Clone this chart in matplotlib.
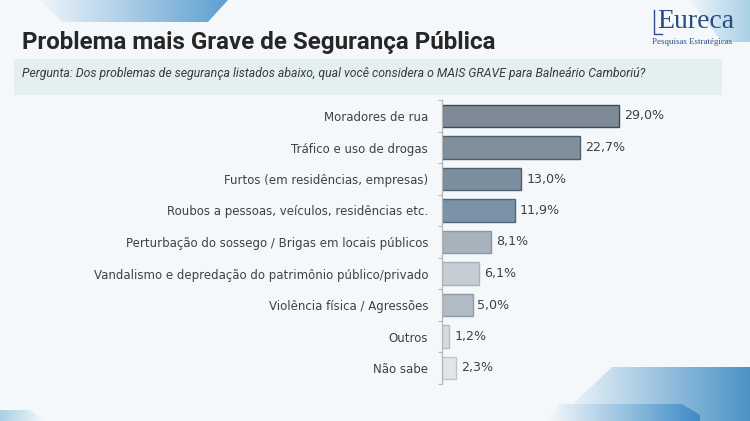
import matplotlib
matplotlib.use("Agg")
import matplotlib.pyplot as plt
import numpy as np
from matplotlib.patches import Polygon, Rectangle
from matplotlib.colors import LinearSegmentedColormap

categories = [
    "Moradores de rua",
    "Tráfico e uso de drogas",
    "Furtos (em residências, empresas)",
    "Roubos a pessoas, veículos, residências etc.",
    "Perturbação do sossego / Brigas em locais públicos",
    "Vandalismo e depredação do patrimônio público/privado",
    "Violência física / Agressões",
    "Outros",
    "Não sabe",
]
values = [29.0, 22.7, 13.0, 11.9, 8.1, 6.1, 5.0, 1.2, 2.3]
value_labels = ["29,0%", "22,7%", "13,0%", "11,9%", "8,1%", "6,1%", "5,0%", "1,2%", "2,3%"]
bar_colors = ["#7e8b97", "#808f9c", "#7b8e9e", "#7b93a6", "#a6b2be",
              "#c6cdd4", "#b1bbc5", "#d6dadf", "#e2e5e8"]
edge_colors = ["#3e4b57", "#4f5e6b", "#52606d", "#4f6577", "#8a96a2",
               "#a9b1b9", "#8f9aa5", "#b6bcc2", "#c2c6cb"]

W, H = 750, 421
BG = "#f5f8fb"
fig = plt.figure(figsize=(7.5, 4.21), dpi=100)
fig.patch.set_facecolor(BG)

# background axes in pixel coordinates
bg = fig.add_axes([0, 0, 1, 1], zorder=-5)
bg.set_xlim(0, W)
bg.set_ylim(H, 0)
bg.axis("off")

def grad_poly(points, c0, c1, x0, x1):
    cmap = LinearSegmentedColormap.from_list("g", [c0, c1])
    p = Polygon(points, closed=True, facecolor="none", edgecolor="none")
    bg.add_patch(p)
    grad = np.linspace(0, 1, 256).reshape(1, -1)
    im = bg.imshow(grad, cmap=cmap, extent=[x0, x1, H, 0], aspect="auto", zorder=1)
    im.set_clip_path(p)

# top-left decoration
grad_poly([(40, 0), (228, 0), (208, 22), (62, 22)], "#eef5fa", "#5e9fd0", 40, 228)
# top-right decoration
grad_poly([(690, 0), (750, 0), (750, 42), (722, 42)], "#eef5fa", "#a9cfe5", 690, 750)
# bottom-right decorations
grad_poly([(612, 367), (750, 367), (750, 421), (555, 421)], BG, "#4a93c6", 560, 750)
grad_poly([(560, 404), (682, 404), (710, 421), (548, 421)], BG, "#3d8bc6", 548, 700)
# bottom-left
grad_poly([(0, 410), (30, 410), (45, 421), (0, 421)], "#a9d0e6", BG, 0, 45)
bg.set_xlim(0, W)
bg.set_ylim(H, 0)

# subtitle box
bg.add_patch(Rectangle((14, 59), 708, 36, facecolor="#e4eff1", edgecolor="none", zorder=2))

fig.text(22 / W, 1 - 42 / H, "Problema mais Grave de Segurança Pública",
         fontsize=17.4, fontweight="bold", color="#262626", family="Roboto",
         va="center", ha="left")
fig.text(22 / W, 1 - 73 / H,
         "Pergunta: Dos problemas de segurança listados abaixo, qual você considera o MAIS GRAVE para Balneário Camboriú?",
         fontsize=8.8, style="italic", color="#3a3a3a", family="Roboto",
         va="center", ha="left")

# logo
fig.text(657 / W, 1 - 22 / H, "Eureca", fontsize=20, family="Liberation Serif",
         color="#2b4c80", va="center", ha="left")
fig.text(652 / W, 1 - 42 / H, "Pesquisas Estratégicas", fontsize=6.4, family="Liberation Serif",
         color="#2b4c80", va="center", ha="left")
bg.plot([654, 654, 662], [10, 34, 34], color="#2b4c80", lw=1.0, zorder=3)

# chart axes: left edge at x=442, 6.1 px per %
xmax = 45
ax_left, ax_right = 442, 442 + xmax * 6.1
ax_top, ax_bot = 100.25, 383.75
ax = fig.add_axes([ax_left / W, 1 - ax_bot / H, (ax_right - ax_left) / W, (ax_bot - ax_top) / H])
ax.set_facecolor("none")

y = np.arange(len(categories))
ax.barh(y, values, height=0.7, color=bar_colors, edgecolor=edge_colors, linewidth=1.0, zorder=2)
ax.set_xlim(0, xmax)
ax.set_ylim(len(categories) - 0.5, -0.5)
ax.set_yticks(y)
ax.set_yticklabels(categories, fontsize=8.5, color="#404040", family="DejaVu Sans")
ax.tick_params(axis="y", which="major", length=0, pad=10)
ax.set_yticks(np.arange(-0.5, len(categories), 1.0), minor=True)
ax.tick_params(axis="y", which="minor", length=3, color="#bbbbbb", width=0.8)
ax.set_xticks([])
for s in ["top", "right", "bottom"]:
    ax.spines[s].set_visible(False)
ax.spines["left"].set_color("#b5b5b5")
ax.spines["left"].set_linewidth(0.9)

for yi, v, lab in zip(y, values, value_labels):
    ax.text(v + 0.8, yi, lab, va="center", ha="left", fontsize=9.1, color="#404040",
            family="DejaVu Sans")

fig.savefig("out.png", dpi=100, facecolor=fig.get_facecolor())
